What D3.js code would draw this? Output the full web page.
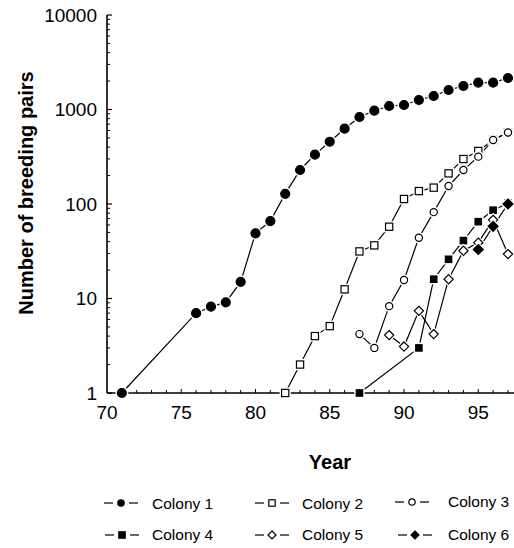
<!DOCTYPE html>
<html><head><meta charset="utf-8">
<script src="https://cdn.jsdelivr.net/npm/d3@7"></script>
<style>body{margin:0;background:#fff}svg{display:block}text{font-family:"Liberation Sans",Arial,Helvetica,sans-serif;fill:#000}</style>
</head><body><svg id="c" width="514" height="548"></svg>
<script>
// ---- data ----
const colony1Years = [71,76,77,78,79,80,81,82,83,84,85,86,87,88,89,90,91,92,93,94,95,96,97];
const colony1Pairs = [1,7,8.2,9.1,15,49,66,128,229,333,456,626,833,971,1089,1116,1260,1389,1608,1773,1922,1922,2154];
const colony2Years = [82,83,84,85,86,87,88,89,90,91,92,93,94,95,96,97];
const colony2Pairs = [1,2,4,5.1,12.5,31.5,36.5,57.5,113,137,149,211,299,364,476,575];
const colony3Years = [87,88,89,90,91,92,93,94,95,96,97];
const colony3Pairs = [4.2,3,8.3,15.7,44,82,155,229,317,476,570];
const colony4Years = [87,91,92,93,94,95,96,97];
const colony4Pairs = [1,3,16,26,41,65,86,102];
const colony5Years = [89,90,91,92,93,94,95,96,97];
const colony5Pairs = [4.1,3.1,7.4,4.2,16,32,39,68,29.5];
const colony6Years = [95,96,97];
const colony6Pairs = [33,58,100];
const seriesNames = ["Colony 1","Colony 2","Colony 3","Colony 4","Colony 5","Colony 6"];
const yTickValues = [1,10,100,1000,10000];
const xTickValues = [70,75,80,85,90,95];

const series = [
  {name:seriesNames[0], years:colony1Years, vals:colony1Pairs, shape:"circle", fill:true, r:4.5},
  {name:seriesNames[1], years:colony2Years, vals:colony2Pairs, shape:"square", fill:false, r:3.6},
  {name:seriesNames[2], years:colony3Years, vals:colony3Pairs, shape:"circle", fill:false, r:3.6},
  {name:seriesNames[3], years:colony4Years, vals:colony4Pairs, shape:"square", fill:true, r:3.2},
  {name:seriesNames[4], years:colony5Years, vals:colony5Pairs, shape:"diamond", fill:false, r:4.6},
  {name:seriesNames[5], years:colony6Years, vals:colony6Pairs, shape:"diamond", fill:true, r:5}
];

const svg = d3.select("#c");
const x = d3.scaleLinear().domain([70, 97.5]).range([107, 515.4]);
const y = d3.scaleLog().domain([1, 10000]).range([393, 15]);

// axes
const g = svg.append("g");
g.append("line").attr("x1",x(70)).attr("x2",514).attr("y1",y(1)).attr("y2",y(1)).attr("stroke","#000").attr("stroke-width",1.6);
g.append("line").attr("x1",x(70)).attr("x2",x(70)).attr("y1",y(1)).attr("y2",y(10000)).attr("stroke","#000").attr("stroke-width",1.6);

// y ticks (inward)
const yMinor = [];
for (let e=0;e<4;e++) for (let m=2;m<=9;m++) yMinor.push(m*Math.pow(10,e));
g.selectAll(".ymin").data(yMinor).join("line")
  .attr("x1",x(70)).attr("x2",x(70)+3).attr("y1",d=>y(d)).attr("y2",d=>y(d)).attr("stroke","#000").attr("stroke-width",1);
g.selectAll(".ymaj").data(yTickValues).join("line")
  .attr("x1",x(70)).attr("x2",x(70)+5).attr("y1",d=>y(d)).attr("y2",d=>y(d)).attr("stroke","#000").attr("stroke-width",1.2);
g.selectAll(".ylab").data(yTickValues).join("text")
  .attr("x",97).attr("y",d=>y(d)+6.5).attr("text-anchor","end").attr("font-size",19).text(d=>d);

// x ticks
const xMinor = d3.range(71,98);
g.selectAll(".xmin").data(xMinor).join("line")
  .attr("x1",d=>x(d)).attr("x2",d=>x(d)).attr("y1",y(1)).attr("y2",d=>y(1)-(d%5===0?4:3)).attr("stroke","#000").attr("stroke-width",1);
g.selectAll(".xlab").data(xTickValues).join("text")
  .attr("x",d=>x(d)).attr("y",419).attr("text-anchor","middle").attr("font-size",19).text(d=>d);

// titles
svg.append("text").attr("x",330).attr("y",469).attr("text-anchor","middle").attr("font-size",20).attr("font-weight","bold").text("Year");
svg.append("text").attr("transform","translate(33,193) rotate(-90)").attr("text-anchor","middle").attr("font-size",20).attr("font-weight","bold").text("Number of breeding pairs");

function drawMarker(sel, s, cx, cy, r, halo) {
  const fill = s.fill ? "#000" : "#fff";
  if (s.shape === "circle") {
    if (halo) sel.append("circle").attr("cx",cx).attr("cy",cy).attr("r",r+2).attr("fill","#fff");
    sel.append("circle").attr("cx",cx).attr("cy",cy).attr("r",r).attr("fill",fill).attr("stroke","#000").attr("stroke-width",1.2);
  } else if (s.shape === "square") {
    if (halo) sel.append("rect").attr("x",cx-r-2).attr("y",cy-r-2).attr("width",2*r+4).attr("height",2*r+4).attr("fill","#fff");
    sel.append("rect").attr("x",cx-r).attr("y",cy-r).attr("width",2*r).attr("height",2*r).attr("fill",fill).attr("stroke","#000").attr("stroke-width",1.2);
  } else {
    const p = (rr)=>`M${cx},${cy-rr}L${cx+rr},${cy}L${cx},${cy+rr}L${cx-rr},${cy}Z`;
    if (halo) sel.append("path").attr("d",p(r+2.5)).attr("fill","#fff");
    sel.append("path").attr("d",p(r)).attr("fill",fill).attr("stroke","#000").attr("stroke-width",1.2);
  }
}

const line = d3.line().x(d=>x(d[0])).y(d=>y(d[1]));
series.forEach(s => {
  const pts = s.years.map((yr,i)=>[yr, s.vals[i]]);
  svg.append("path").attr("d",line(pts)).attr("fill","none").attr("stroke","#000").attr("stroke-width",1.2);
});
series.forEach(s => {
  const mg = svg.append("g");
  s.years.forEach((yr,i)=> drawMarker(mg, s, x(yr), y(s.vals[i]), s.r, true));
});

// legend
const legPos = [[121,152,503,509],[272,302,503,509],[412,448,502,507],[122,152,535,540],[272,302,535,540],[415,448,535,540]];
series.forEach((s,i)=>{
  const [sx,tx,sy,ty] = legPos[i];
  const lg = svg.append("g");
  lg.append("line").attr("x1",sx-17).attr("x2",sx-8).attr("y1",sy).attr("y2",sy).attr("stroke","#000").attr("stroke-width",1.2);
  lg.append("line").attr("x1",sx+8).attr("x2",sx+17).attr("y1",sy).attr("y2",sy).attr("stroke","#000").attr("stroke-width",1.2);
  drawMarker(lg, s, sx, sy, s.shape==="diamond"?4:3.2, false);
  lg.append("text").attr("x",tx).attr("y",ty).attr("font-size",15.5).text(s.name);
});
</script></body></html>
